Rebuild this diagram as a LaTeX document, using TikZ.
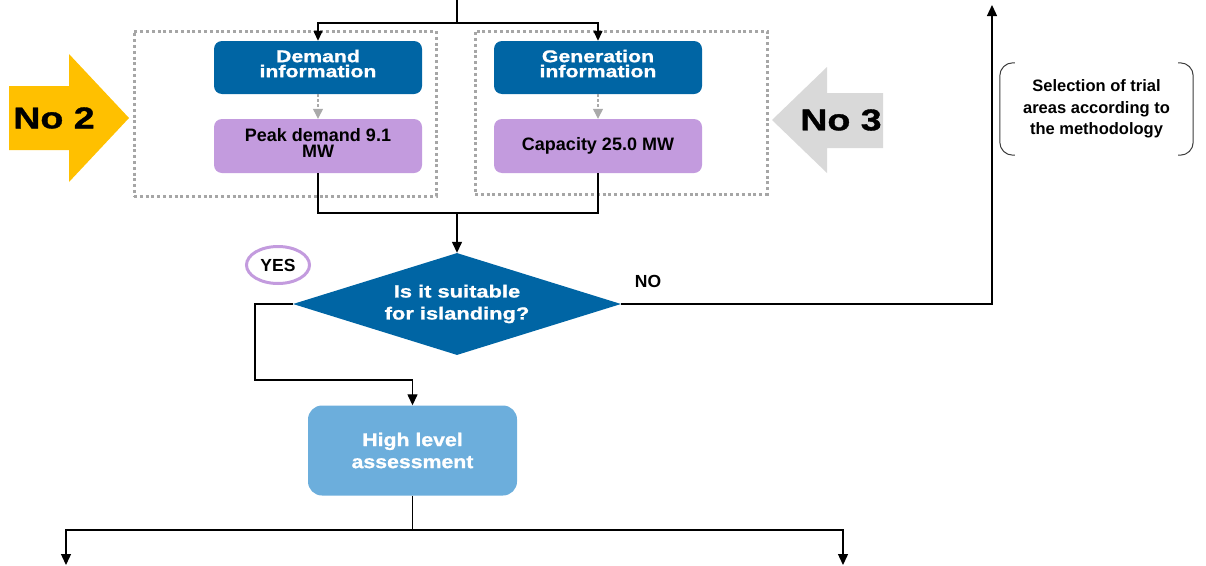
\documentclass[tikz,border=0pt]{standalone}
\usepackage{fontspec}
\setmainfont{Liberation Sans}
\newfontfamily\widefont[FakeStretch=1.25,FakeBold=1.2]{Liberation Sans}
\newfontfamily\midfont[FakeStretch=1.15,FakeBold=1]{Liberation Sans}
\usetikzlibrary{shapes.geometric,arrows.meta}
\definecolor{boxblue}{RGB}{0,101,164}
\definecolor{valpurple}{RGB}{195,155,222}
\definecolor{assessblue}{RGB}{108,174,220}
\definecolor{noyellow}{RGB}{255,192,0}
\definecolor{nogray}{RGB}{217,217,217}
\definecolor{dotgray}{RGB}{166,166,166}
\definecolor{hintgray}{RGB}{170,170,170}
\definecolor{bracketgray}{RGB}{60,60,60}
\begin{document}
\begin{tikzpicture}[x=1pt,y=-1pt,
  conn/.style={line width=1.3pt,draw=black},
  arr/.style={conn,-{Triangle[length=11pt,width=10pt]}},
  smallarr/.style={conn,-{Triangle[length=10pt,width=9pt]}},
  hint/.style={draw=hintgray,line width=1.2pt,dash pattern=on 3pt off 2pt,
    -{Triangle[length=10pt,width=10pt]}},
  dotbox/.style={rectangle,draw=dotgray,line width=3pt,
    dash pattern=on 3pt off 2.8pt,inner sep=0pt},
  infobox/.style={rectangle,rounded corners=8pt,fill=boxblue,text=white,
    minimum width=208pt,minimum height=53pt,inner sep=0pt,align=center,
    font=\widefont\bfseries\fontsize{17}{15}\selectfont},
  valbox/.style={rectangle,rounded corners=8pt,fill=valpurple,text=black,
    minimum width=208pt,minimum height=54pt,inner sep=0pt,align=center,
    font=\bfseries\fontsize{18}{16.5}\selectfont},
  decision/.style={diamond,fill=boxblue,text=white,minimum width=328pt,
    minimum height=102pt,inner sep=0pt,shape aspect=3.2,align=center,
    font=\widefont\bfseries\fontsize{17.5}{22}\selectfont},
  assess/.style={rectangle,rounded corners=14pt,fill=assessblue,text=white,
    minimum width=209pt,minimum height=90pt,inner sep=0pt,align=center,
    font=\midfont\bfseries\fontsize{18.5}{22}\selectfont},
  bignum/.style={inner sep=0pt,font=\widefont\bfseries\fontsize{30}{30}\selectfont},
  answer/.style={inner sep=0pt,font=\bfseries\fontsize{17.5}{17.5}\selectfont},
  bracket/.style={draw=bracketgray,line width=1pt,rounded corners=13pt}
]
\useasboundingbox (0,0) rectangle (1206,565);

% grouping frames
\node[dotbox,minimum width=302pt,minimum height=165pt] (grpdem) at (285,113.5) {};
\node[dotbox,minimum width=292pt,minimum height=163pt] (grpgen) at (621,112.5) {};

% big side arrows
\fill[noyellow] (9,86) -- (69,86) -- (69,54) -- (129,118) -- (69,182)
  -- (69,150) -- (9,150) -- cycle;
\node[bignum] (no2) at (54,118) {No 2};
\fill[nogray] (883,93) -- (827,93) -- (827,67) -- (772,120) -- (827,173)
  -- (827,148) -- (883,148) -- cycle;
\node[bignum] (no3) at (841,120) {No 3};

% boxes
\node[infobox,text depth=8pt] (dem) at (318,67.5) {Demand\\information};
\node[valbox,text depth=6pt] (peak) at (318,146) {Peak demand 9.1\\MW};
\node[infobox,text depth=8pt] (gen) at (598,67.5) {Generation\\information};
\node[valbox] (cap) at (598,146) {Capacity 25.0 MW};

\node[decision] (dia) at (457,304) {Is it suitable\\for islanding?};
\node[answer,ellipse,draw=valpurple,line width=3pt,minimum width=63pt,
  minimum height=37pt] (yes) at (278,265) {YES};
\node[answer] (no) at (648,281) {NO};

\node[assess] (hla) at (412.5,450.5) {High level\\assessment};

\node[align=center,inner sep=0pt,minimum width=193pt,minimum height=92pt,
  font=\bfseries\fontsize{16.5}{21.7}\selectfont] (sel) at (1096.5,109)
  {Selection of trial\\areas according to\\the methodology};
\draw[bracket] ([xshift=15pt]sel.north west) -- (sel.north west)
  -- (sel.south west) -- ([xshift=15pt]sel.south west);
\draw[bracket] ([xshift=-15pt]sel.north east) -- (sel.north east)
  -- (sel.south east) -- ([xshift=-15pt]sel.south east);

% connectors
\coordinate (feed) at (457,0);
\coordinate (fork) at (457,23);
\draw[conn] (feed) -- (fork);
\draw[smallarr] (fork) -| (dem.north);
\draw[smallarr] (fork) -| (gen.north);

\draw[hint] (dem.south) -- (peak.north);
\draw[hint] (gen.south) -- (cap.north);

\coordinate (merge) at (457,213);
\draw[conn] (peak.south) |- (merge) -| (cap.south);
\draw[arr] (merge) -- (dia.north);

\coordinate (ybend) at (255,380);
\draw[arr] (dia.west) -| (ybend) -| (hla.north);

\coordinate (ntop) at (992,5);
\draw[arr] (dia.east) -| (ntop);

\coordinate (bfork) at (412.5,530);
\coordinate (out1) at (66,565);
\coordinate (out2) at (843,565);
\draw[conn] (hla.south) -- (bfork);
\draw[arr] (bfork) -| (out1);
\draw[arr] (bfork) -| (out2);
\end{tikzpicture}
\end{document}
